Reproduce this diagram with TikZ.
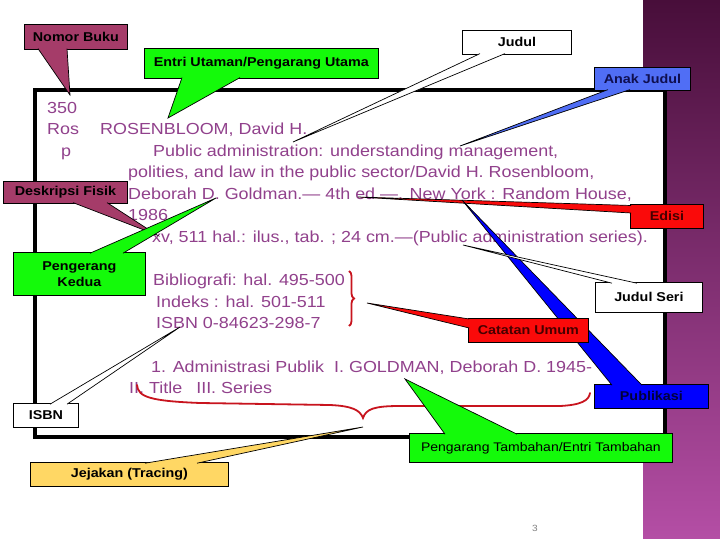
\documentclass[tikz,border=0pt]{standalone}
\usepackage{fontspec}
\setmainfont{Liberation Sans}[FakeStretch=1.12]
\usetikzlibrary{calc,decorations.pathreplacing}
\definecolor{bodypurple}{RGB}{145,65,140}
\definecolor{maroonbox}{RGB}{165,60,105}
\definecolor{greenbox}{RGB}{20,250,10}
\definecolor{lightbluebox}{RGB}{80,110,245}
\definecolor{bluebox}{RGB}{0,0,255}
\definecolor{redbox}{RGB}{250,10,10}
\definecolor{yellowbox}{RGB}{255,215,100}
\definecolor{stripTop}{RGB}{72,14,58}
\definecolor{stripBot}{RGB}{180,78,165}
\definecolor{bracered}{RGB}{200,20,30}
\definecolor{navytext}{RGB}{15,15,80}
\definecolor{deepnavy}{RGB}{0,0,60}
\definecolor{darkred}{RGB}{70,0,0}
\begin{document}
\begin{tikzpicture}[x=1pt,y=-1pt,
  body/.style={anchor=base west,inner sep=0pt,text=bodypurple,font=\fontsize{16}{19}\selectfont},
  cbox/.style={draw=black,line width=0.8pt,anchor=north west,inner sep=0pt,align=center,font=\bfseries\fontsize{12.8}{16}\selectfont},
  wedge/.style={draw=black,line width=0.7pt},
  bracestyle/.style={draw=bracered,line width=1.8pt}]
\useasboundingbox (0,0) rectangle (720,540);
\fill[white] (0,0) rectangle (720,540);
\shade[top color=stripTop,bottom color=stripBot] (643,0) rectangle (720,538);
% card
\draw[line width=4.5pt,fill=white] (35,90) rectangle (665,437);
% body text
\node[body] (t350) at (47,113.5) {350};
\node[body] (tros) at (47,135) {Ros};
\node[body] (tauth) at (100,135) {ROSENBLOOM, David H.};
\node[body] (tp) at (61,156.5) {p};
\node[body] (ttitle1) at (153,156.5) {Public administration: understanding management,};
\node[body] (ttitle2) at (128,178) {polities, and law in the public sector/David H. Rosenbloom,};
\node[body] (ttitle3) at (128,199.5) {Deborah D. Goldman.— 4th ed —. New York : Random House,};
\node[body] (tyear) at (128,221) {1986};
\node[body] (tcoll) at (152,242.5) {xv, 511 hal.: ilus., tab. ; 24 cm.—(Public administration series).};
\node[body] (tbib) at (153,285.5) {Bibliografi: hal. 495-500};
\node[body] (tidx) at (156,307) {Indeks : hal. 501-511};
\node[body] (tisbn) at (156,328.5) {ISBN 0-84623-298-7};
\node[body] (ttr1) at (151,372) {1. Administrasi Publik\hspace{10pt}I. GOLDMAN, Deborah D. 1945-};
\node[body] (ttr2) at (129,393) {II. Title\hspace{14pt}III. Series};
% braces
\coordinate (bra1) at (349,271);
\coordinate (bra2) at (349,326);
\draw[bracestyle,decorate,decoration={brace,amplitude=5pt}] (bra1) -- (bra2);
\coordinate (brb1) at (137,385);
\coordinate (brb2) at (590,393);
\draw[bracestyle,line cap=round] (brb1) .. controls (138,397) and (150,401) .. (200,403)
  -- (330,405) .. controls (352,406) and (360,410) .. (363,418)
  .. controls (366,409) and (374,406) .. (400,406) -- (560,406)
  .. controls (580,405) and (589,401) .. (brb2);
% tips
\coordinate (tipNB) at (70,95);
\coordinate (tipEU) at (168,118);
\coordinate (tipJD) at (293,142);
\coordinate (tipAJ) at (460,146);
\coordinate (tipDF) at (157,235);
\coordinate (tipPK) at (216,198);
\coordinate (tipED) at (358,197);
\coordinate (tipJS) at (463,245);
\coordinate (tipCU) at (367,303);
\coordinate (tipPB) at (462,200);
\coordinate (tipIS) at (180,327);
\coordinate (tipPT) at (405,379);
\coordinate (tipJJ) at (363,427);
% callouts
\node[cbox,fill=maroonbox,minimum width=103pt,minimum height=25pt] (nb) at (24,24) {Nomor Buku};
\filldraw[wedge,fill=maroonbox] ($(nb.south west)+(14,-1.2)$) -- (tipNB) -- ($(nb.south west)+(43,-1.2)$);
\node[cbox,fill=greenbox,minimum width=234pt,minimum height=30pt] (eu) at (144,48) {Entri Utaman/Pengarang Utama};
\filldraw[wedge,fill=greenbox] ($(eu.south west)+(38,-1.2)$) -- (tipEU) -- ($(eu.south west)+(96,-1.2)$);
\node[cbox,fill=white,minimum width=109pt,minimum height=24pt] (jd) at (462,30) {Judul};
\filldraw[wedge,fill=white] ($(jd.south west)+(18,-1.2)$) -- (tipJD) -- ($(jd.south west)+(43,-1.2)$);
\node[cbox,fill=lightbluebox,text=navytext,minimum width=96pt,minimum height=23pt] (aj) at (594,67) {Anak Judul};
\filldraw[wedge,fill=lightbluebox] ($(aj.south west)+(14,-1.2)$) -- (tipAJ) -- ($(aj.south west)+(36,-1.2)$);
\node[cbox,fill=maroonbox,minimum width=124pt,minimum height=22pt] (df) at (3,181) {Deskripsi Fisik};
\filldraw[wedge,fill=maroonbox] ($(df.south west)+(70,-1.2)$) -- (tipDF) -- ($(df.south west)+(104,-1.2)$);
\node[cbox,fill=greenbox,minimum width=132pt,minimum height=43pt] (pk) at (13,252) {Pengerang\\Kedua};
\filldraw[wedge,fill=greenbox] ($(pk.north west)+(77,1.2)$) -- (tipPK) -- ($(pk.north west)+(110,1.2)$);
\node[cbox,fill=redbox,text=darkred,minimum width=73pt,minimum height=24pt] (ed) at (630,204) {Edisi};
\filldraw[wedge,fill=redbox] ($(ed.north west)+(1.2,1.5)$) -- (tipED) -- ($(ed.north west)+(1.2,9)$);
\node[cbox,fill=bluebox,text=deepnavy,minimum width=114pt,minimum height=24pt] (pb) at (594,384) {Publikasi};
\filldraw[wedge,fill=bluebox] ($(pb.north west)+(18,1.2)$) -- (tipPB) -- ($(pb.north west)+(48,1.2)$);
\node[cbox,fill=white,minimum width=107pt,minimum height=30pt] (js) at (595,282) {Judul Seri};
\filldraw[wedge,fill=white] ($(js.north west)+(17,1.2)$) -- (tipJS) -- ($(js.north west)+(42,1.2)$);
\node[cbox,fill=redbox,text=darkred,minimum width=120pt,minimum height=24pt] (cu) at (468,318) {Catatan Umum};
\filldraw[wedge,fill=redbox] ($(cu.north west)+(1.2,1)$) -- (tipCU) -- ($(cu.north west)+(1.2,10)$);
\node[cbox,fill=white,minimum width=65pt,minimum height=24pt] (is) at (13,403) {ISBN};
\filldraw[wedge,fill=white] ($(is.north west)+(37,1.2)$) -- (tipIS) -- ($(is.north west)+(54,1.2)$);
\node[cbox,fill=greenbox,minimum width=263pt,minimum height=29pt,font=\fontsize{12.5}{15}\selectfont] (pt) at (409,433) {Pengarang Tambahan/Entri Tambahan};
\filldraw[wedge,fill=greenbox] ($(pt.north west)+(36,1.2)$) -- (tipPT) -- ($(pt.north west)+(108,1.2)$);
\node[cbox,fill=yellowbox,minimum width=198pt,minimum height=24pt] (jj) at (30,462) {Jejakan (Tracing)};
\filldraw[wedge,fill=yellowbox] ($(jj.north west)+(115,1.2)$) -- (tipJJ) -- ($(jj.north west)+(167,1.2)$);
% page number
\node[inner sep=0pt,text=gray,font=\fontsize{9}{10}\selectfont] (pnum) at (535,528) {3};
\end{tikzpicture}
\end{document}
